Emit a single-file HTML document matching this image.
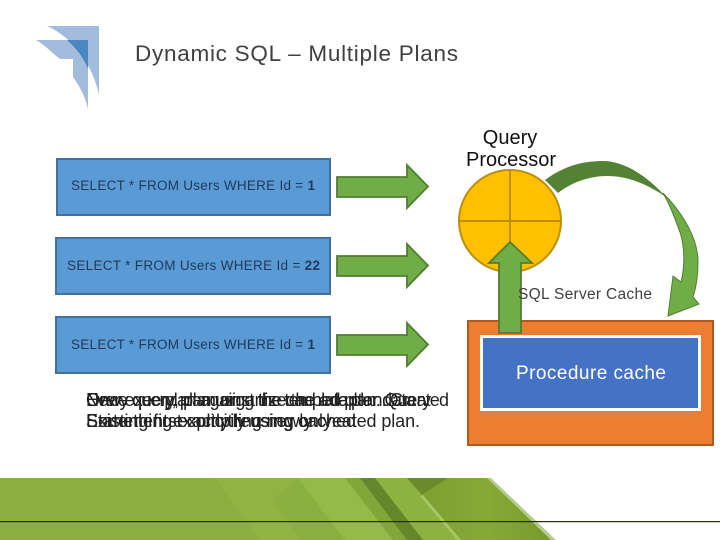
<!DOCTYPE html>
<html>
<head>
<meta charset="utf-8">
<style>
html,body{margin:0;padding:0;background:#fff;width:720px;height:540px;overflow:hidden}
svg{display:block}
text{font-family:"Liberation Sans",sans-serif}
</style>
</head>
<body>
<svg width="720" height="540" viewBox="0 0 720 540" xmlns="http://www.w3.org/2000/svg">
<defs>
<linearGradient id="rg" x1="0" y1="0" x2="1" y2="0">
<stop offset="0" stop-color="#7c9f30"/><stop offset="0.5" stop-color="#86a936"/><stop offset="1" stop-color="#77992b"/>
</linearGradient>
</defs>
<!-- footer -->
<polygon points="0,478 487,478 555,540 0,540" fill="#8dae40"/>
<polygon points="215,478 360,478 407,540 260,540" fill="#90b344"/>
<polygon points="298,478 345,478 393,540 345,540" fill="#96ba49"/>
<polygon points="272,500 298,478 345,540 300,540" fill="#8caf41"/>
<polygon points="345,478 360,478 407,540 393,540" fill="#82a63a"/>
<polygon points="375,478 407,478 423,496 420,496 457,540 423,540" fill="#8db23f"/>
<polygon points="360,478 375,478 423,540 407,540" fill="#66862c"/>
<polygon points="407,478 448,478 423,496" fill="#6b8b2a"/>
<polygon points="448,478 487,478 555,540 457,540 420,496" fill="url(#rg)"/>
<polygon points="420,496 423,495 461,540 457,540" fill="#a5c862"/>
<polygon points="487,478 491,478 556,540 551,540" fill="#b4cc8c"/>
<rect x="0" y="521" width="720" height="1.2" fill="#1d2a18"/>
<!-- logo -->
<path d="M47,26 H99 V95 C93,66 74,38 47,26 Z" fill="#a3bcdd"/>
<path d="M36,40 H88 V109 C85,96 80,87 73,77 V59 H60 C52,53 45,45 36,40 Z" fill="#a3bcdd"/>
<path d="M67,40 H88 V69 C84,58 76,48 67,40 Z" fill="#4b86c1"/>
<!-- title -->
<text x="135" y="61" font-size="22.5" fill="#404040" textLength="323">Dynamic SQL – Multiple Plans</text>
<!-- query boxes -->
<g fill="#5b9bd5" stroke="#41719c" stroke-width="2">
<rect x="57" y="159" width="273" height="56"/>
<rect x="56" y="238" width="274" height="56"/>
<rect x="56" y="317" width="274" height="56"/>
</g>
<g font-size="13.5" fill="#1f3a5c">
<text x="71" y="190" textLength="244">SELECT * FROM Users WHERE Id = <tspan font-weight="bold">1</tspan></text>
<text x="67" y="270" textLength="253">SELECT * FROM Users WHERE Id = <tspan font-weight="bold">22</tspan></text>
<text x="71" y="349" textLength="244">SELECT * FROM Users WHERE Id = <tspan font-weight="bold">1</tspan></text>
</g>
<!-- arrows -->
<g fill="#70ad47" stroke="#507e32" stroke-width="1.8">
<polygon points="337,177 407,177 407,165 428,186.5 407,208 407,197 337,197"/>
<polygon points="337,256 407,256 407,244 428,265.5 407,287 407,276 337,276"/>
<polygon points="337,335 407,335 407,323 428,344.5 407,366 407,355 337,355"/>
</g>
<!-- query processor -->
<text x="510" y="144" font-size="20" fill="#111" text-anchor="middle">Query</text>
<text x="511" y="166" font-size="20" fill="#111" text-anchor="middle">Processor</text>
<circle cx="510" cy="221" r="51" fill="#ffc000" stroke="#bc8f0c" stroke-width="2"/>
<path d="M510,170 V272 M459,221 H561" stroke="#bc8f0c" stroke-width="2" fill="none"/>
<!-- curved arrow -->
<path d="M663,193 C678,208 698,235 698,262 C698,278 696,288 693,297 L699,304 L668,316 L673,276 L681,282 C686,262 684,240 678,227 C674,216 670,205 663,193 Z" fill="#70ad47" stroke="#507e32" stroke-width="1"/>
<path d="M545,180 C565,165 585,161 603,161 C625,161 648,177 666,197 C650,186 630,176 607,176 C590,176 572,182 558,193 Z" fill="#548235"/>
<!-- orange container -->
<rect x="468" y="321" width="245" height="124" fill="#ed7d31" stroke="#ae5a21" stroke-width="2"/>
<rect x="481.5" y="336.5" width="218" height="73" fill="#4472c4" stroke="#fff" stroke-width="3"/>
<text x="516" y="379" font-size="19" fill="#fff" textLength="150">Procedure cache</text>
<!-- up arrow -->
<polygon points="510,242 532,263 521,263 521,333 499,333 499,263 489,263" fill="#70ad47" stroke="#507e32" stroke-width="1.8"/>
<text x="518" y="299" font-size="15.5" fill="#404040" textLength="134">SQL Server Cache</text>
<!-- overlapping text -->
<g font-size="18" fill="#222">
<text x="86" y="406" textLength="363">Every query, plan using the template plan. Created</text>
<text x="86" y="427" textLength="334">Existing first compiling newly created plan.</text>
<text x="86" y="406" textLength="345">New exec plan against the cached plan. Query</text>
<text x="86" y="427" textLength="246">Something explicitly using only</text>
<text x="86" y="406" textLength="330">Once query, plan organize the adapter data</text>
<text x="86" y="427" textLength="270">Statement exactly reusing cached</text>
</g>
</svg>
</body>
</html>
